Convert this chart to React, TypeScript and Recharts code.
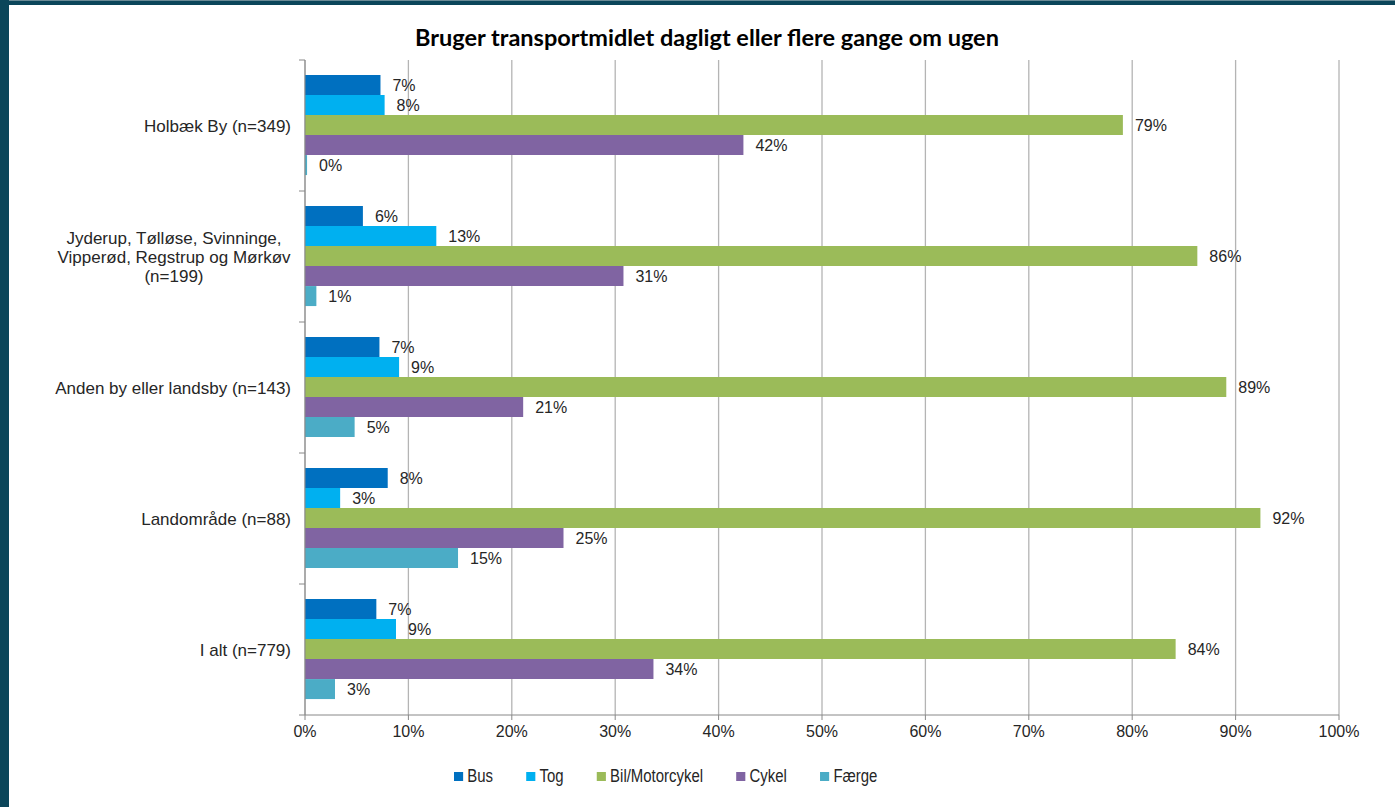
import React from "react";
import {
  BarChart,
  Bar,
  XAxis,
  YAxis,
  CartesianGrid,
  Legend,
  LabelList,
} from "recharts";

const categories = [
  "Holbæk By (n=349)",
  "Jyderup, Tølløse, Svinninge,\nVipperød, Regstrup og Mørkøv\n(n=199)",
  "Anden by eller landsby (n=143)",
  "Landområde (n=88)",
  "I alt (n=779)",
];
const busValues = [7.3, 5.6, 7.2, 8.0, 6.9];
const togValues = [7.7, 12.7, 9.1, 3.4, 8.8];
const bilValues = [79.1, 86.3, 89.1, 92.4, 84.2];
const cykelValues = [42.4, 30.8, 21.1, 25.0, 33.7];
const faergeValues = [0.2, 1.1, 4.8, 14.8, 2.9];
const xTicks = [0, 10, 20, 30, 40, 50, 60, 70, 80, 90, 100];

const seriesNames = ["Bus", "Tog", "Bil/Motorcykel", "Cykel", "Færge"];
const seriesKeys = ["bus", "tog", "bil", "cykel", "faerge"];
const seriesColors = ["#0070C0", "#00B0F0", "#9BBB59", "#8064A2", "#4BACC6"];

const data = categories.map((c, i) => ({
  name: c,
  bus: busValues[i],
  tog: togValues[i],
  bil: bilValues[i],
  cykel: cykelValues[i],
  faerge: faergeValues[i],
}));

const W = 1395;
const H = 807;
const AXIS_X = 305;
const PLOT_TOP = 60;
const PLOT_BOTTOM = 715;
const BAND = (PLOT_BOTTOM - PLOT_TOP) / categories.length;
const FONT = "'Liberation Sans', Arial, sans-serif";
const CAL = "Lato, 'Liberation Sans', sans-serif";

const YTick = (props: any) => {
  const { y, payload, index } = props;
  const lines = String(payload.value).split("\n");
  const lh = 19;
  const multi = lines.length > 1;
  const tx = multi ? AXIS_X - 14 - 117 : AXIS_X - 14;
  const startY = y - ((lines.length - 1) * lh) / 2;
  return (
    <g>
      <line x1={AXIS_X - 6} x2={AXIS_X} y1={y - BAND / 2} y2={y - BAND / 2} stroke="#888" />
      {index === categories.length - 1 && (
        <line x1={AXIS_X - 6} x2={AXIS_X} y1={y + BAND / 2} y2={y + BAND / 2} stroke="#888" />
      )}
      <text
        x={tx}
        y={startY}
        textAnchor={multi ? "middle" : "end"}
        fontFamily={FONT}
        fontSize={17}
        fill="#262626"
        dominantBaseline="central"
      >
        {lines.map((l, i) => (
          <tspan key={i} x={tx} dy={i === 0 ? 0 : lh}>
            {l}
          </tspan>
        ))}
      </text>
    </g>
  );
};

const LegendContent = () => (
  <div
    style={{
      display: "flex",
      alignItems: "center",
      height: 30,
      fontFamily: FONT,
      fontSize: 18,
      color: "#262626",
      transformOrigin: "0 50%",
      transform: "translateX(454px) scaleX(0.83)",
      whiteSpace: "nowrap",
    }}
  >
    {seriesNames.map((n, i) => (
      <div key={n} style={{ display: "flex", alignItems: "center", marginRight: 40 }}>
        <div style={{ width: 11, height: 9, background: seriesColors[i], marginRight: 5 }} />
        <span>{n}</span>
      </div>
    ))}
  </div>
);

const fmt = (v: any) => `${Math.round(Number(v))}%`;

export default function App() {
  return (
    <div
      style={{
        position: "absolute",
        left: 0,
        top: 0,
        width: W,
        height: H,
        background: "#fff",
        overflow: "hidden",
      }}
    >
      <div style={{ position: "absolute", left: 0, top: 0, width: W, height: 5, background: "#0b465a" }} />
      <div style={{ position: "absolute", left: 0, top: 0, width: W, height: 1, background: "#6b8b96" }} />
      <div style={{ position: "absolute", left: 0, top: 0, width: 9, height: H, background: "#0b465a" }} />
      <div
        style={{
          position: "absolute",
          left: 357,
          top: 22,
          width: 700,
          textAlign: "center",
          fontFamily: CAL,
          fontWeight: 700,
          fontSize: 23.5,
          color: "#000",
          lineHeight: "30px",
        }}
      >
        Bruger transportmidlet dagligt eller flere gange om ugen
      </div>
      <div style={{ position: "absolute", left: 0, top: 0 }}>
        <BarChart
          width={W}
          height={H}
          data={data}
          layout="vertical"
          margin={{ top: PLOT_TOP, right: 56, left: 0, bottom: 16 }}
          barCategoryGap="11.5%"
          barGap={0}
        >
          <CartesianGrid horizontal={false} stroke="#b4b4b4" strokeWidth={1.3} />
          <XAxis
            type="number"
            domain={[0, 100]}
            ticks={xTicks}
            tickFormatter={(v) => `${v}%`}
            height={46}
            stroke="#888"
            tickSize={5}
            tickMargin={6}
            tick={{ fontFamily: FONT, fontSize: 16, fill: "#262626" }}
            interval={0}
          />
          <YAxis
            type="category"
            dataKey="name"
            width={AXIS_X}
            stroke="#888"
            tickLine={false}
            tick={<YTick />}
            interval={0}
          />
          <Legend verticalAlign="bottom" height={30} content={<LegendContent />} />
          {seriesKeys.map((k, i) => (
            <Bar
              key={k}
              dataKey={k}
              name={seriesNames[i]}
              fill={seriesColors[i]}
              isAnimationActive={false}
            >
              <LabelList
                dataKey={k}
                position="right"
                offset={12}
                formatter={fmt}
                style={{ fontFamily: FONT, fontSize: 16, fill: "#262626" }}
              />
            </Bar>
          ))}
        </BarChart>
      </div>
    </div>
  );
}
